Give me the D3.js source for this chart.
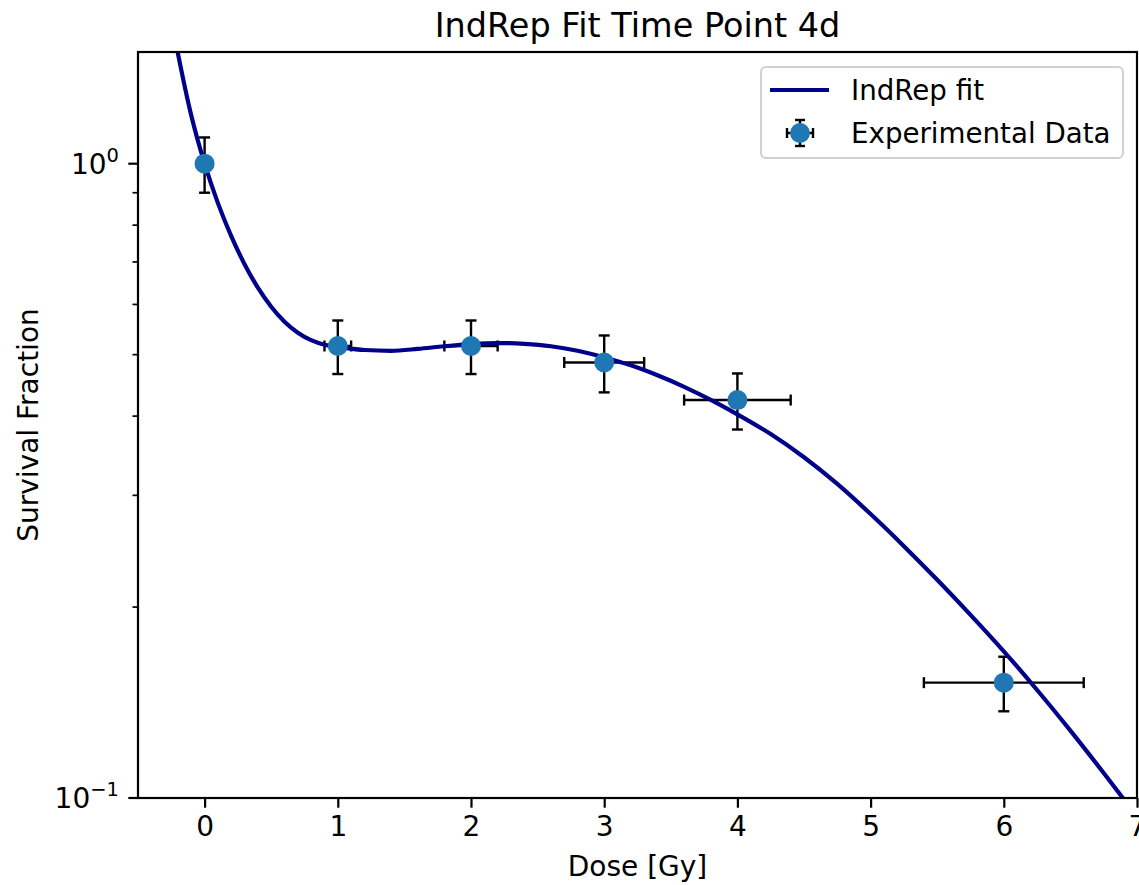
<!DOCTYPE html>
<html>
<head>
<meta charset="utf-8">
<script src="https://cdn.jsdelivr.net/npm/d3@7"></script>
<style>
  body { margin: 0; background: #fff; }
  svg { display: block; font-family: "DejaVu Sans", sans-serif; }
</style>
</head>
<body>
<svg id="chart" width="1139" height="885"></svg>
<script>
// experimental points (dose in Gy, survival fraction) with their errors
const doses = [0, 1, 2, 3, 4, 6];
const survival = [1.0, 0.516, 0.516, 0.486, 0.424, 0.152];
const survivalErr = [0.1, 0.05, 0.05, 0.05, 0.043, 0.015];
const doseErr = [0, 0.1, 0.2, 0.3, 0.4, 0.6];

// IndRep fit curve
const fitDose = [-0.25, -0.2, -0.1, 0, 0.1, 0.2, 0.3, 0.4, 0.5, 0.6, 0.7, 0.8, 0.9, 1.0,
                 1.2, 1.4, 1.6, 1.8, 2.0, 2.2, 2.4, 2.6, 2.8, 3.0, 3.2, 3.4, 3.6, 3.8, 4.0,
                 4.25, 4.5, 4.75, 5.0, 5.25, 5.5, 5.75, 6.0, 6.25, 6.5, 6.75, 7.0];
const fitSurvival = [1.69, 1.491, 1.191, 1.0, 0.8667, 0.7688, 0.6944, 0.6376, 0.5951, 0.5636, 0.5415, 0.527, 0.5184, 0.5147,
                     0.5085, 0.507, 0.5105, 0.5155, 0.5195, 0.5215, 0.520, 0.5155, 0.507, 0.495, 0.481, 0.4639, 0.4449, 0.4244, 0.4026,
                     0.3748, 0.3445, 0.3127, 0.2803, 0.2495, 0.2208, 0.1944, 0.1703, 0.148, 0.1277, 0.1095, 0.0935];

const xTicks = [0, 1, 2, 3, 4, 5, 6, 7];
const yMajor = [{v: 1, exp: "0"}, {v: 0.1, exp: "\u22121"}];
const yMinor = [0.2, 0.3, 0.4, 0.5, 0.6, 0.7, 0.8, 0.9];

const title = "IndRep Fit Time Point 4d";
const xLabel = "Dose [Gy]";
const yLabel = "Survival Fraction";
const legendLabels = ["IndRep fit", "Experimental Data"];

const plot = {left: 138, right: 1137, top: 52, bottom: 798};
const fitColor = "#00008b";
const pointColor = "#1f77b4";
const fontSize = 28;

var svg = d3.select("#chart");

var x = d3.scaleLinear().domain([-0.5, 7]).range([plot.left, plot.right]);
var y = d3.scaleLog().domain([0.1, 1.5]).range([plot.bottom, plot.top]);

svg.append("defs").append("clipPath").attr("id", "plot-clip")
    .append("rect")
    .attr("x", plot.left).attr("y", plot.top)
    .attr("width", plot.right - plot.left).attr("height", plot.bottom - plot.top);

// x axis
var xAxis = svg.append("g")
    .attr("transform", `translate(0,${plot.bottom})`)
    .call(d3.axisBottom(x).tickValues(xTicks).tickFormat(d3.format("d")).tickSize(9.7).tickPadding(8));
xAxis.select(".domain").remove();
xAxis.selectAll("line").attr("stroke", "#000").attr("stroke-width", 2.2);
xAxis.selectAll("text").attr("font-size", fontSize).attr("font-family", "DejaVu Sans").attr("fill", "#000");

// y axis, log scale: minor ticks plus 10^n labels
var yAxis = svg.append("g");
yAxis.selectAll("line.minor")
    .data(yMinor)
    .join("line")
    .attr("class", "minor")
    .attr("x1", plot.left - 5.5).attr("x2", plot.left)
    .attr("y1", d => y(d)).attr("y2", d => y(d))
    .attr("stroke", "#000").attr("stroke-width", 1.7);
yAxis.selectAll("line.major")
    .data(yMajor)
    .join("line")
    .attr("class", "major")
    .attr("x1", plot.left - 9.7).attr("x2", plot.left)
    .attr("y1", d => y(d.v)).attr("y2", d => y(d.v))
    .attr("stroke", "#000").attr("stroke-width", 2.2);
var yLabels = yAxis.selectAll("text.major")
    .data(yMajor)
    .join("text")
    .attr("class", "major")
    .attr("x", plot.left - 19)
    .attr("y", d => y(d.v) + 10)
    .attr("text-anchor", "end")
    .attr("font-size", fontSize);
yLabels.append("tspan").text("10");
yLabels.append("tspan").attr("dy", -12).attr("font-size", 19.5).text(d => d.exp);

// error bars
var errs = svg.append("g").attr("clip-path", "url(#plot-clip)");
doses.forEach(function(d, i) {
    var cx = x(d), cy = y(survival[i]);
    var yLo = y(survival[i] - survivalErr[i]), yHi = y(survival[i] + survivalErr[i]);
    var xLo = x(d - doseErr[i]), xHi = x(d + doseErr[i]);
    var g = errs.append("g").attr("stroke", "#000").attr("stroke-width", 2.4);
    g.append("line").attr("x1", cx).attr("x2", cx).attr("y1", yLo).attr("y2", yHi);
    g.append("line").attr("x1", cx - 5.5).attr("x2", cx + 5.5).attr("y1", yLo).attr("y2", yLo);
    g.append("line").attr("x1", cx - 5.5).attr("x2", cx + 5.5).attr("y1", yHi).attr("y2", yHi);
    if (doseErr[i] > 0) {
        g.append("line").attr("x1", xLo).attr("x2", xHi).attr("y1", cy).attr("y2", cy);
        g.append("line").attr("x1", xLo).attr("x2", xLo).attr("y1", cy - 5.5).attr("y2", cy + 5.5);
        g.append("line").attr("x1", xHi).attr("x2", xHi).attr("y1", cy - 5.5).attr("y2", cy + 5.5);
    }
});

// fit curve
var line = d3.line()
    .x(d => x(d[0]))
    .y(d => y(d[1]))
    .curve(d3.curveMonotoneX);
svg.append("path")
    .datum(d3.zip(fitDose, fitSurvival))
    .attr("clip-path", "url(#plot-clip)")
    .attr("d", line)
    .attr("fill", "none")
    .attr("stroke", fitColor)
    .attr("stroke-width", 4.2);

// data markers
svg.append("g")
    .selectAll("circle")
    .data(d3.zip(doses, survival))
    .join("circle")
    .attr("cx", d => x(d[0]))
    .attr("cy", d => y(d[1]))
    .attr("r", 10)
    .attr("fill", pointColor);

// frame
svg.append("rect")
    .attr("x", plot.left).attr("y", plot.top)
    .attr("width", plot.right - plot.left).attr("height", plot.bottom - plot.top)
    .attr("fill", "none").attr("stroke", "#000").attr("stroke-width", 2.2);

// titles
svg.append("text")
    .attr("x", (plot.left + plot.right) / 2).attr("y", 37)
    .attr("text-anchor", "middle").attr("font-size", 33.5)
    .text(title);
svg.append("text")
    .attr("x", (plot.left + plot.right) / 2).attr("y", 876)
    .attr("text-anchor", "middle").attr("font-size", fontSize)
    .text(xLabel);
svg.append("text")
    .attr("transform", `translate(38,${(plot.top + plot.bottom) / 2}) rotate(-90)`)
    .attr("text-anchor", "middle").attr("font-size", fontSize)
    .text(yLabel);

// legend
var legend = svg.append("g");
legend.append("rect")
    .attr("x", 761).attr("y", 67).attr("width", 362).attr("height", 91).attr("rx", 5)
    .attr("fill", "#fff").attr("fill-opacity", 0.8)
    .attr("stroke", "#d0d0d0").attr("stroke-width", 2);
legend.append("line")
    .attr("x1", 770).attr("x2", 829).attr("y1", 90).attr("y2", 90)
    .attr("stroke", fitColor).attr("stroke-width", 4.2);
var lm = legend.append("g").attr("stroke", "#000").attr("stroke-width", 2.4);
lm.append("line").attr("x1", 800).attr("x2", 800).attr("y1", 120).attr("y2", 146);
lm.append("line").attr("x1", 795).attr("x2", 805).attr("y1", 120).attr("y2", 120);
lm.append("line").attr("x1", 795).attr("x2", 805).attr("y1", 146).attr("y2", 146);
lm.append("line").attr("x1", 787).attr("x2", 813).attr("y1", 133).attr("y2", 133);
lm.append("line").attr("x1", 787).attr("x2", 787).attr("y1", 128).attr("y2", 138);
lm.append("line").attr("x1", 813).attr("x2", 813).attr("y1", 128).attr("y2", 138);
legend.append("circle").attr("cx", 800).attr("cy", 133).attr("r", 10).attr("fill", pointColor);
legend.selectAll("text")
    .data(legendLabels)
    .join("text")
    .attr("x", 851)
    .attr("y", (d, i) => 100 + i * 43)
    .attr("font-size", 27.7)
    .text(d => d);
</script>
</body>
</html>
